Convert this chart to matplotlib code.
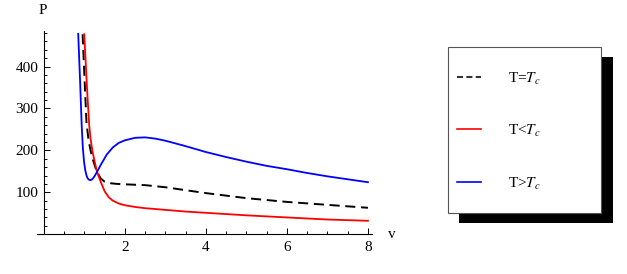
import matplotlib
matplotlib.use('Agg')
import matplotlib.pyplot as plt
from matplotlib.lines import Line2D
from matplotlib.patches import Rectangle
from matplotlib.ticker import MultipleLocator


# values
v_crit = [0.954, 1.0, 1.05, 1.1, 1.15, 1.2, 1.3, 1.4, 1.5, 1.6, 1.8, 2.0,
          2.5, 3.0, 3.5, 4.0, 5.0, 6.0, 7.0, 8.0]
p_crit = [477, 373, 265, 225, 200, 180, 150, 133, 125, 122, 120, 119,
          117, 112, 105, 98, 86, 77, 70, 63]

v_low = [0.994, 1.03, 1.07, 1.117, 1.15, 1.2, 1.3, 1.4, 1.5, 1.6, 1.7,
         1.85, 2.0, 2.25, 2.5, 3.0, 3.5, 4.0, 5.0, 6.0, 7.0, 8.0]
p_low = [477, 410, 335, 260, 228, 196, 152, 125, 102, 88, 80,
         73, 69, 65, 62, 58, 54, 51, 45, 40, 35, 32]

v_high = [0.845, 0.89, 0.93, 0.96, 0.99, 1.02, 1.05, 1.08, 1.11, 1.15,
          1.19, 1.24, 1.30, 1.40, 1.55, 1.70, 1.85, 2.0, 2.25, 2.5, 2.75,
          3.0, 3.5, 4.0, 4.5, 5.0, 5.5, 6.0, 6.5, 7.0, 7.5, 8.0]
p_high = [478, 369, 262, 205, 172, 152, 140, 133, 130, 129,
          131, 137, 147, 165, 190, 207, 218, 224, 230, 231, 228,
          223, 210, 196, 184, 173, 163, 155, 146, 138, 131, 124]

labels = ['T=$T_c$', 'T<$T_c$', 'T>$T_c$']

plt.rcParams['font.family'] = ['Liberation Serif', 'DejaVu Serif']
plt.rcParams['mathtext.fontset'] = 'stix'

W, H = 627, 274
fig = plt.figure(figsize=(W / 100, H / 100), dpi=100)


def fx(px):
    return px / W


def fy(py):
    return 1 - py / H


# axes: x=-0.18 at px 36.7, x=8.1 at px 372; y=0 at py 234.2, y=485 at py 30.9
ax = fig.add_axes([fx(36.7), fy(234.2), (372 - 36.7) / W, (234.2 - 30.9) / H])
ax.set_xlim(-0.18, 8.1)
ax.set_ylim(0, 485)

l_crit, = ax.plot(v_crit, p_crit, color='black', lw=1.4, dashes=(5.2, 2.9))
l_low, = ax.plot(v_low, p_low, color='red', lw=1.3)
l_high, = ax.plot(v_high, p_high, color='blue', lw=1.3)

for s in ['top', 'right']:
    ax.spines[s].set_visible(False)
ax.spines['left'].set_position(('data', 0))
for s in ['left', 'bottom']:
    ax.spines[s].set_linewidth(0.8)

ax.xaxis.set_major_locator(MultipleLocator(2))
ax.xaxis.set_minor_locator(MultipleLocator(0.5))
ax.yaxis.set_major_locator(MultipleLocator(100))
ax.yaxis.set_minor_locator(MultipleLocator(20))
ax.set_xticks([2, 4, 6, 8])
ax.set_yticks([100, 200, 300, 400])
ax.tick_params(which='both', direction='in', labelsize=11, width=0.7)
ax.tick_params(which='major', length=4)
ax.tick_params(which='minor', length=2.3)
ax.tick_params(axis='x', pad=5)
ax.tick_params(axis='y', pad=4)

fig.text(fx(42.7), fy(10), 'P', fontsize=11, ha='center', va='center')
fig.text(fx(391.5), fy(234), 'v', fontsize=11, ha='center', va='center')

# legend box with solid shadow
fig.add_artist(Rectangle((fx(459.3), fy(223.3)), (612.7 - 459.3) / W,
                         (223.3 - 56.7) / H, transform=fig.transFigure,
                         facecolor='black', edgecolor='none'))
fig.add_artist(Rectangle((fx(448.3), fy(213.3)), (601 - 448.3) / W,
                         (213.3 - 46.7) / H, transform=fig.transFigure,
                         facecolor='white', edgecolor='#555555', lw=0.8))

rows = [76.7, 129, 181.7]
for line, lab, py in zip([l_crit, l_low, l_high], labels, rows):
    if line is l_crit:
        style = dict(color='#333333', lw=1.5, dashes=(2.9, 1.6))
    else:
        style = dict(color=line.get_color(), lw=1.2)
    fig.add_artist(Line2D([fx(457.3), fx(480.7)], [fy(py), fy(py)],
                          transform=fig.transFigure, **style))
    fig.text(fx(507.7), fy(py + 6), lab, fontsize=11, ha='left', va='baseline')

fig.savefig('out.png', dpi=100)
